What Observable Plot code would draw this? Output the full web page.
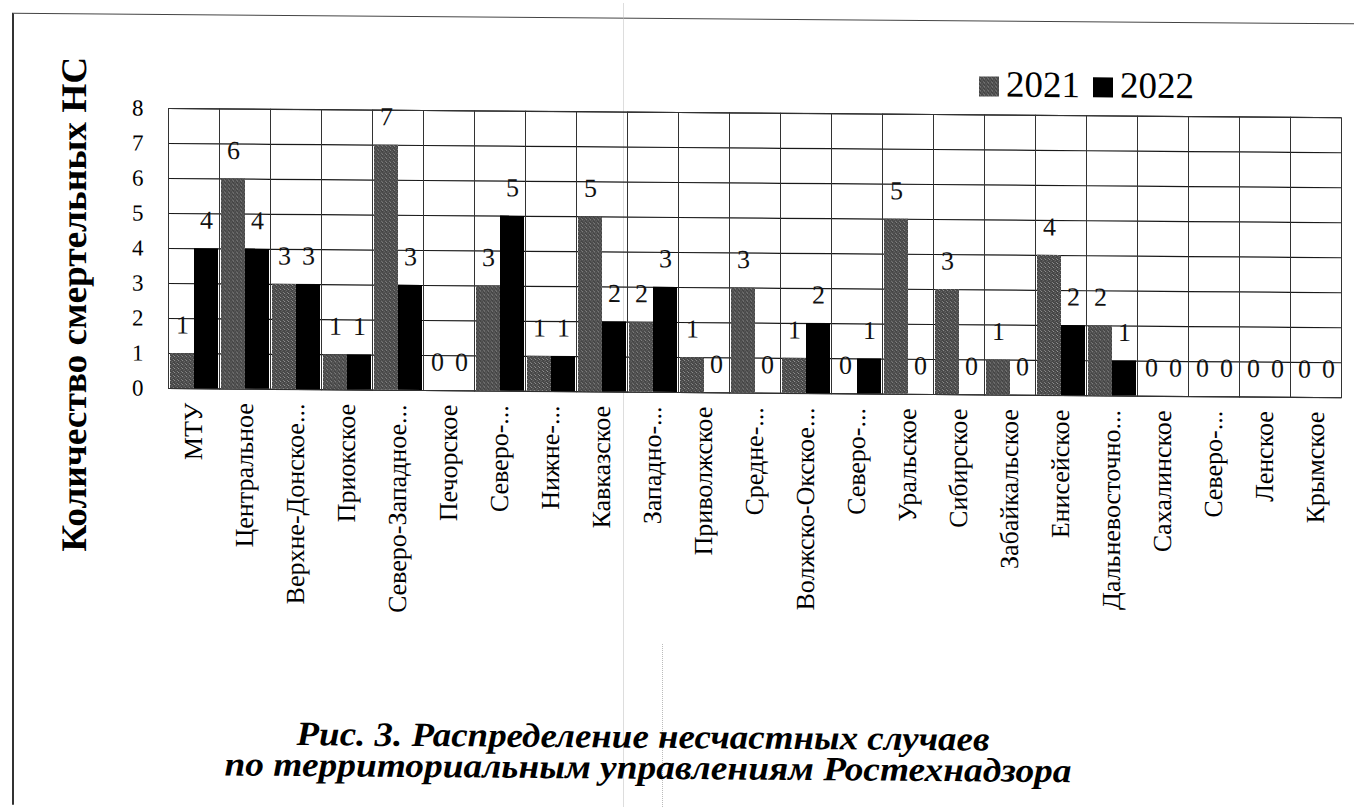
<!DOCTYPE html>
<html>
<head>
<meta charset="utf-8">
<script src="https://cdn.jsdelivr.net/npm/d3@7"></script>
<script src="https://cdn.jsdelivr.net/npm/@observablehq/plot@0.6"></script>
<style>
  html, body { margin: 0; padding: 0; background: #fff; font-family: "Liberation Serif", serif; }
  #wrap { position: relative; width: 1354px; height: 807px; overflow: hidden; background: #fff; }
  #fig { position: absolute; left: 0; top: 0; width: 1354px; height: 807px; transform: skewY(0.45deg); transform-origin: 166px 108px; }
  #chart { position: absolute; left: 0; top: 0; }
  #chart svg { background: transparent; }
  #chart svg, #chart svg text { font-family: "Liberation Serif", serif !important; }
  #overlay { position: absolute; left: 0; top: 0; pointer-events: none; }
  #overlay text { font-family: "Liberation Serif", serif; }
  #border { position: absolute; left: 12px; top: 14px; width: 1400px; height: 791px; border-left: 2px solid #333; border-top: 1.5px solid #444; }
  .fold { position: absolute; top: 0; height: 807px; border-left: 1px dotted #bbb; }
</style>
</head>
<body>
<div id="wrap">
  <div id="fig">
    <div id="border"></div>
    <div class="fold" style="left:623px"></div>
    <div class="fold" style="left:662px; top:640px; height:167px"></div>
    <div id="chart"></div>
    <svg id="overlay" width="1354" height="807" xmlns="http://www.w3.org/2000/svg">
      <defs>
        <pattern id="stipple" width="4" height="4" patternUnits="userSpaceOnUse">
          <rect width="4" height="4" fill="#444"/>
          <rect x="0" y="0" width="1" height="1" fill="#9c9c9c"/>
          <rect x="2" y="1" width="1" height="1" fill="#7c7c7c"/>
          <rect x="1" y="2" width="1" height="1" fill="#6c6c6c"/>
          <rect x="3" y="3" width="1" height="1" fill="#8a8a8a"/>
        </pattern>
      </defs>
      <text transform="translate(86,305) rotate(-90)" text-anchor="middle" font-weight="bold" font-size="36" textLength="495" lengthAdjust="spacingAndGlyphs">Количество смертельных НС</text>
      <g id="legend" font-size="37"></g>
      <g font-weight="bold" font-style="italic" font-size="34" text-anchor="middle">
        <text id="cap1" x="643" y="744" textLength="693" lengthAdjust="spacingAndGlyphs"></text>
        <text id="cap2" x="648" y="775" textLength="847" lengthAdjust="spacingAndGlyphs"></text>
      </g>
    </svg>
  </div>
</div>
<script>
// ---- data ----
const categories = [
  "МТУ", "Центральное", "Верхне-Донское...", "Приокское", "Северо-Западное...",
  "Печорское", "Северо-...", "Нижне-...", "Кавказское", "Западно-...",
  "Приволжское", "Средне-...", "Волжско-Окское...", "Северо-...", "Уральское",
  "Сибирское", "Забайкальское", "Енисейское", "Дальневосточно...", "Сахалинское",
  "Северо-...", "Ленское", "Крымское"
];
const series = ["2021", "2022"];
const values2021 = [1, 6, 3, 1, 7, 0, 3, 1, 5, 2, 1, 3, 1, 0, 5, 3, 1, 4, 2, 0, 0, 0, 0];
const values2022 = [4, 4, 3, 1, 3, 0, 5, 1, 2, 3, 0, 0, 2, 1, 0, 0, 0, 2, 1, 0, 0, 0, 0];
const yTicks = [0, 1, 2, 3, 4, 5, 6, 7, 8];
const captionLines = [
  "Рис. 3. Распределение несчастных случаев",
  "по территориальным управлениям Ростехнадзора"
];
const seriesFills = { "2021": "url(#stipple)", "2022": "#000" };

// ---- table built from the arrays ----
const rows = categories.flatMap((c, i) => [
  { i, cat: c, year: series[0], value: values2021[i] },
  { i, cat: c, year: series[1], value: values2022[i] }
]);

const chart = Plot.plot({
  width: 1354,
  height: 640,
  marginLeft: 166,
  marginRight: 12,
  marginTop: 108,
  marginBottom: 252,
  style: { background: "transparent", color: "#000", overflow: "visible" },
  fx: { domain: d3.range(categories.length), padding: 0 },
  x: { domain: series, axis: null, paddingInner: 0, paddingOuter: 0.05 },
  y: { domain: [0, 8] },
  marks: [
    Plot.gridY(yTicks, { stroke: "#1a1a1a", strokeOpacity: 1, strokeWidth: 1.2 }),
    Plot.frame({ stroke: "#333", strokeWidth: 1 }),
    Plot.barY(rows.filter(d => d.year === series[0]), { fx: "i", x: "year", y: "value", fill: seriesFills["2021"] }),
    Plot.barY(rows.filter(d => d.year === series[1]), { fx: "i", x: "year", y: "value", fill: seriesFills["2022"] }),
    Plot.text(rows, { fx: "i", x: "year", y: "value", text: d => String(d.value), lineAnchor: "bottom", dy: -20, fontSize: 26, fill: "#111" }),
    Plot.axisY(yTicks, { tickSize: 0, tickPadding: 25, fontSize: 23, label: null, tickFormat: d => String(d) }),
    Plot.axisFx({ anchor: "bottom", tickRotate: -90, tickSize: 0, tickPadding: 14, fontSize: 26, label: null, tickFormat: i => categories[i] })
  ]
});
chart.setAttribute("font-family", "Liberation Serif, serif");
document.getElementById("chart").appendChild(chart);

// ---- legend ----
const legend = d3.select("#legend");
const legendItems = [
  { key: "2021", sx: 979, tx: 1006 },
  { key: "2022", sx: 1093, tx: 1120 }
];
legendItems.forEach(it => {
  legend.append("rect").attr("x", it.sx).attr("y", 70).attr("width", 20).attr("height", 20).attr("fill", seriesFills[it.key]);
  legend.append("text").attr("x", it.tx).attr("y", 90).text(it.key);
});

// ---- caption ----
document.getElementById("cap1").textContent = captionLines[0];
document.getElementById("cap2").textContent = captionLines[1];
</script>
</body>
</html>
